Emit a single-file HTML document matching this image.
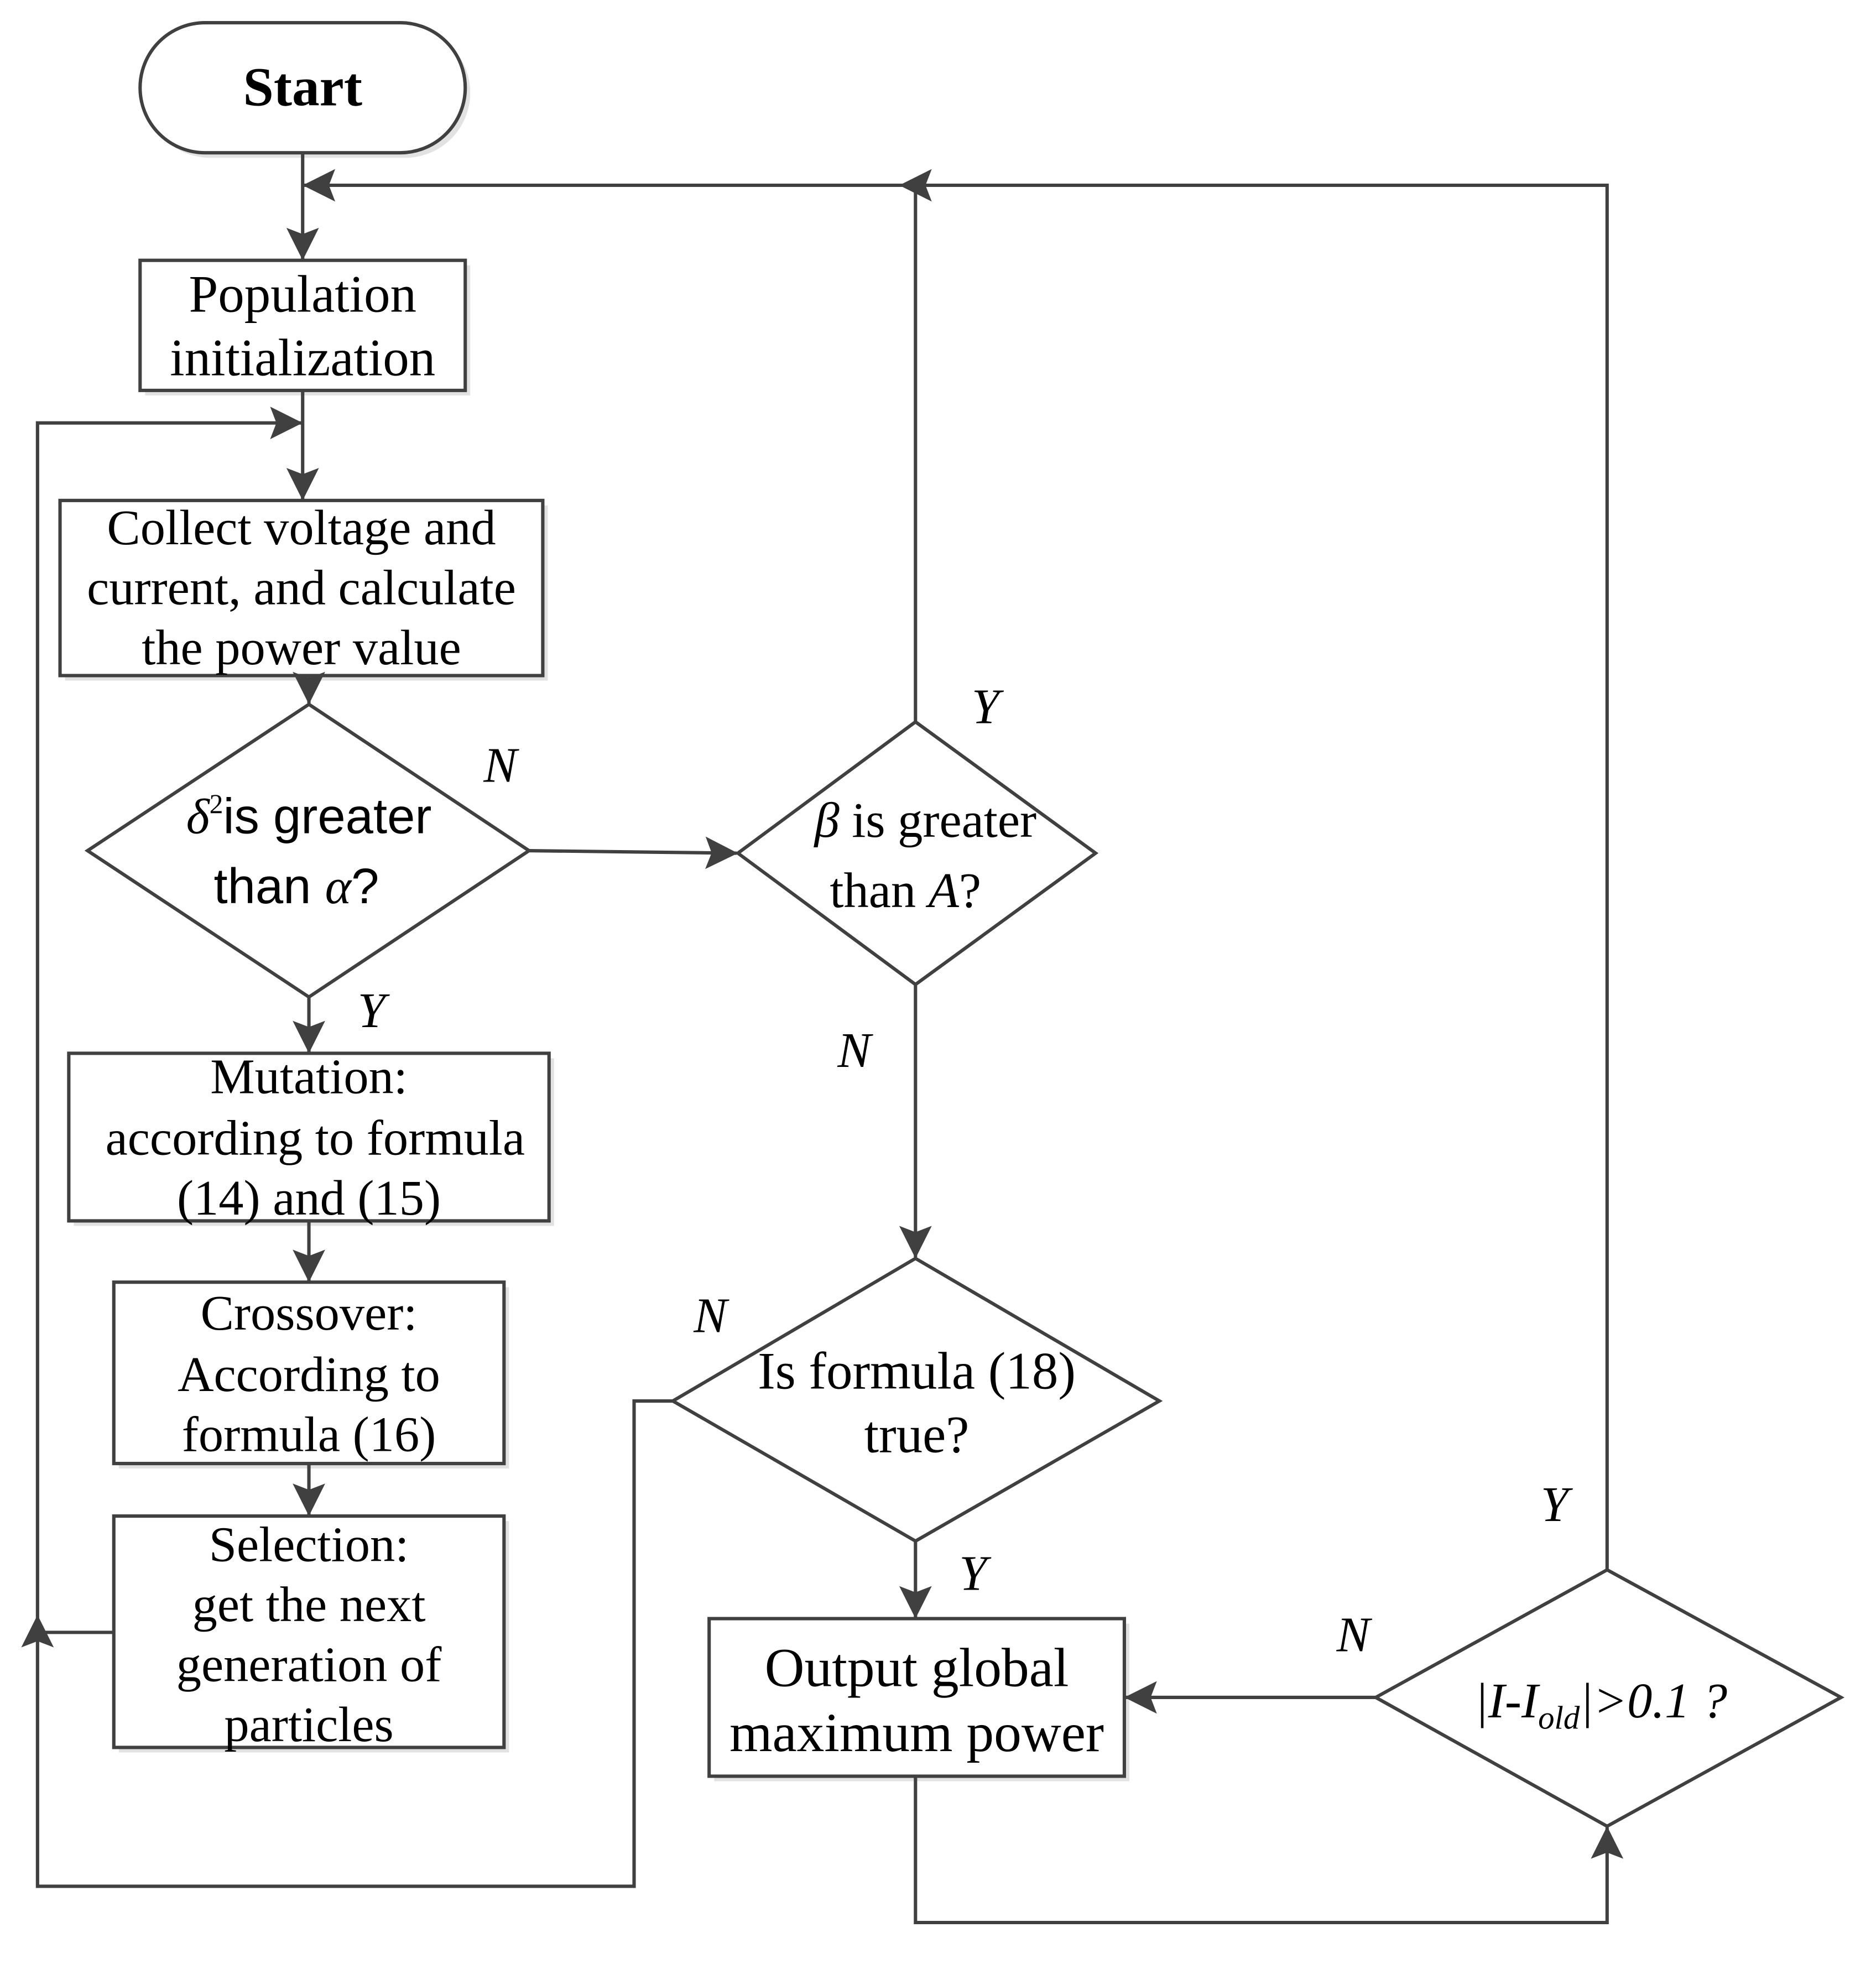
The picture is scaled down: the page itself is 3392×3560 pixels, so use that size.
<!DOCTYPE html>
<html><head><meta charset="utf-8"><style>
html,body{margin:0;padding:0;background:#fff;}
svg{display:block;}
.t{font-family:"Liberation Serif",serif;fill:#000;text-anchor:middle;}
.s{font-family:"Liberation Sans",sans-serif;fill:#000;text-anchor:middle;}
.i{font-family:"Liberation Serif",serif;font-style:italic;fill:#000;text-anchor:middle;font-size:40px;}
</style></head><body>
<svg width="3392" height="3560" viewBox="0 0 1500 1574" xmlns="http://www.w3.org/2000/svg">
<defs>
<marker id="b" markerWidth="26" markerHeight="26" refX="25" refY="13" orient="auto" markerUnits="userSpaceOnUse" viewBox="0 0 26 26">
<path d="M0,0 L26,13 L0,26 L5,13 z" fill="#404040"/>
</marker>
</defs>
<g fill="#e2e2e2" transform="translate(4,4)">
<rect x="112" y="18" width="260" height="104" rx="52"/>
<rect x="112" y="208" width="260" height="104"/>
<rect x="48" y="400" width="386" height="140"/>
<rect x="55" y="842" width="384" height="134"/>
<rect x="91" y="1025" width="312" height="145"/>
<rect x="91" y="1212" width="312" height="185"/>
<rect x="567" y="1294" width="332" height="126"/>
</g>
<g fill="#fff" stroke="#404040" stroke-width="2.7">
<rect x="112" y="18" width="260" height="104" rx="52"/>
<rect x="112" y="208" width="260" height="104"/>
<rect x="48" y="400" width="386" height="140"/>
<rect x="55" y="842" width="384" height="134"/>
<rect x="91" y="1025" width="312" height="145"/>
<rect x="91" y="1212" width="312" height="185"/>
<rect x="567" y="1294" width="332" height="126"/>
<polygon points="247,563 423,680 247,797 70,680"/>
<polygon points="732,577 876,682 732,787 590,682"/>
<polygon points="732,1006 927,1120 732,1232 538,1120"/>
<polygon points="1285,1255 1472,1357 1285,1460 1100,1357"/>
</g>
<g fill="none" stroke="#404040" stroke-width="2.7">
<path d="M242,122 V207" marker-end="url(#b)"/>
<path d="M1285,1255 V148 H243" marker-end="url(#b)"/>
<path d="M242,312 V399" marker-end="url(#b)"/>
<path d="M91,1305 H30 V1508 H507 V1120 H538"/>
<path d="M30,1305 V338 H241" marker-end="url(#b)"/>
<path d="M247,540 V562" marker-end="url(#b)"/>
<path d="M423,680 L589,682" marker-end="url(#b)"/>
<path d="M732,577 V148"/>
<path d="M732,787 V1005" marker-end="url(#b)"/>
<path d="M247,797 V841" marker-end="url(#b)"/>
<path d="M247,976 V1024" marker-end="url(#b)"/>
<path d="M247,1170 V1211" marker-end="url(#b)"/>
<path d="M732,1232 V1293" marker-end="url(#b)"/>
<path d="M732,1420 V1537 H1285 V1461" marker-end="url(#b)"/>
<path d="M1100,1357 H900" marker-end="url(#b)"/>
</g>
<g fill="#404040">
<path d="M719,148 L745,135 L740,148 L745,161 z"/>
<path d="M30,1291 L17,1317 L30,1312 L43,1317 z"/>
</g>
<text class="t" x="242" y="84" font-size="44" font-weight="bold">Start</text>
<text class="t" x="242" y="249" font-size="42">Population</text>
<text class="t" x="242" y="300" font-size="42">initialization</text>
<text class="t" x="241" y="435" font-size="40">Collect voltage and</text>
<text class="t" x="241" y="483" font-size="40">current, and calculate</text>
<text class="t" x="241" y="531" font-size="40">the power value</text>
<text class="s" x="247" y="666" font-size="40"><tspan font-family="Liberation Serif" font-style="italic">δ</tspan><tspan font-size="22" dy="-16" font-family="Liberation Serif">2</tspan><tspan dy="16">is greater</tspan></text>
<text class="s" x="237" y="722" font-size="40">than <tspan font-family="Liberation Serif" font-style="italic">α</tspan>?</text>
<text class="t" x="740" y="669" font-size="40"><tspan font-style="italic">β</tspan> is greater</text>
<text class="t" x="724" y="725" font-size="40">than <tspan font-style="italic">A</tspan>?</text>
<text class="t" x="733" y="1110" font-size="42">Is formula (18)</text>
<text class="t" x="733" y="1161" font-size="42">true?</text>
<text class="t" x="247" y="874" font-size="40">Mutation:</text>
<text class="t" x="252" y="923" font-size="40">according to formula</text>
<text class="t" x="247" y="971" font-size="40">(14) and (15)</text>
<text class="t" x="247" y="1063" font-size="40">Crossover:</text>
<text class="t" x="247" y="1112" font-size="40">According to</text>
<text class="t" x="247" y="1160" font-size="40">formula (16)</text>
<text class="t" x="247" y="1248" font-size="40">Selection:</text>
<text class="t" x="247" y="1296" font-size="40">get the next</text>
<text class="t" x="247" y="1344" font-size="40">generation of</text>
<text class="t" x="247" y="1392" font-size="40">particles</text>
<text class="t" x="733" y="1348" font-size="44">Output global</text>
<text class="t" x="733" y="1400" font-size="44">maximum power</text>
<text class="i" x="1280" y="1373" font-size="40">|I-I<tspan font-size="26" dy="9">old</tspan><tspan dy="-9">|&gt;0.1 ?</tspan></text>
<text class="i" x="400" y="625">N</text>
<text class="i" x="788" y="578">Y</text>
<text class="i" x="683" y="853">N</text>
<text class="i" x="297" y="821">Y</text>
<text class="i" x="568" y="1065">N</text>
<text class="i" x="778" y="1271">Y</text>
<text class="i" x="1082" y="1320">N</text>
<text class="i" x="1243" y="1216">Y</text>
</svg>
</body></html>
